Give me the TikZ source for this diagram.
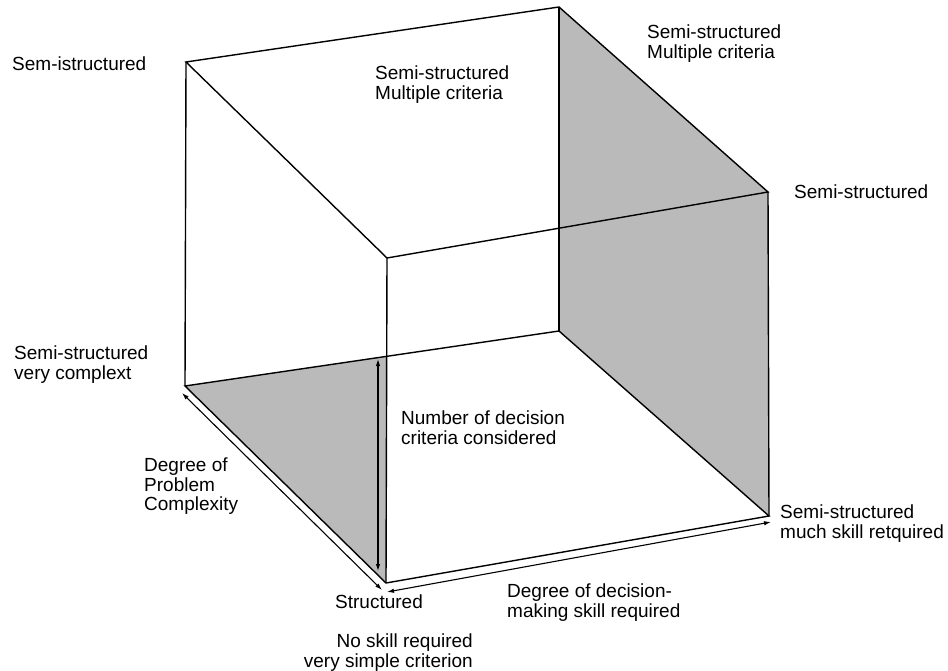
\documentclass[tikz,border=0pt]{standalone}
\usepackage{fontspec}
\setmainfont{Liberation Sans}
\usetikzlibrary{arrows.meta}
\begin{document}
\begin{tikzpicture}[x=1pt,y=-1pt,
  edge/.style={line width=1.4pt, line join=miter},
  facefill/.style={fill=black!27},
  axis/.style={line width=1.1pt, {Latex[length=7pt,width=4.5pt]}-{Latex[length=7pt,width=4.5pt]}},
  lbl/.style={anchor=north west, inner sep=0pt, align=left, font=\fontsize{19}{19.5}\selectfont},
  lblr/.style={lbl, anchor=north east, align=right}]
\fill[white] (0,0) rectangle (948,671);
\useasboundingbox (0,0) rectangle (948,671);

% cube corners: top face A B C D, bottom face E G H F
\coordinate (A) at (186,62);
\coordinate (B) at (559,7);
\coordinate (C) at (768,192);
\coordinate (D) at (387,258);
\coordinate (E) at (185,386);
\coordinate (G) at (559,331);
\coordinate (H) at (769,516);
\coordinate (F) at (386,583);
\coordinate (P) at (intersection of E--G and D--F);

% shaded faces
\fill[facefill] (B) -- (C) -- (H) -- (G) -- cycle;
\fill[facefill] (E) -- (P) -- (F) -- cycle;

% cube edges
\draw[edge] (A) -- (B) -- (C) -- (D) -- cycle;
\draw[edge] (E) -- (G) -- (H) -- (F) -- cycle;
\draw[edge] (A) -- (E);
\draw[edge] (B) -- (G);
\draw[edge] (C) -- (H);
\draw[edge] (D) -- (F);

% axis arrows
\coordinate (v1) at (378,359);
\coordinate (v2) at (378,571);
\coordinate (d1) at (182,393);
\coordinate (d2) at (382,590);
\coordinate (h1) at (387,592);
\coordinate (h2) at (771,522);
\draw[axis] (v1) -- (v2);
\draw[axis] (d1) -- (d2);
\draw[axis] (h1) -- (h2);

% labels
\node[lbl] (l1) at (12,57) {Sem-istructured};
\node[lbl] (l2) at (375,66) {Semi-structured\\Multiple criteria};
\node[lbl] (l3) at (647,25) {Semi-structured\\Multiple criteria};
\node[lbl] (l4) at (794,185) {Semi-structured};
\node[lbl] (l5) at (14,346) {Semi-structured\\very complext};
\node[lbl] (l6) at (144,458) {Degree of\\Problem\\Complexity};
\node[lbl] (l7) at (401,411) {Number of decision\\criteria considered};
\node[lbl] (l8) at (780,505) {Semi-structured\\much skill retquired};
\node[lbl] (l9) at (335,595) {Structured};
\node[lbl] (l10) at (507,584) {Degree of decision-\\making skill required};
\node[lblr] (l11) at (473,634) {No skill required\\very simple criterion};
\end{tikzpicture}
\end{document}
